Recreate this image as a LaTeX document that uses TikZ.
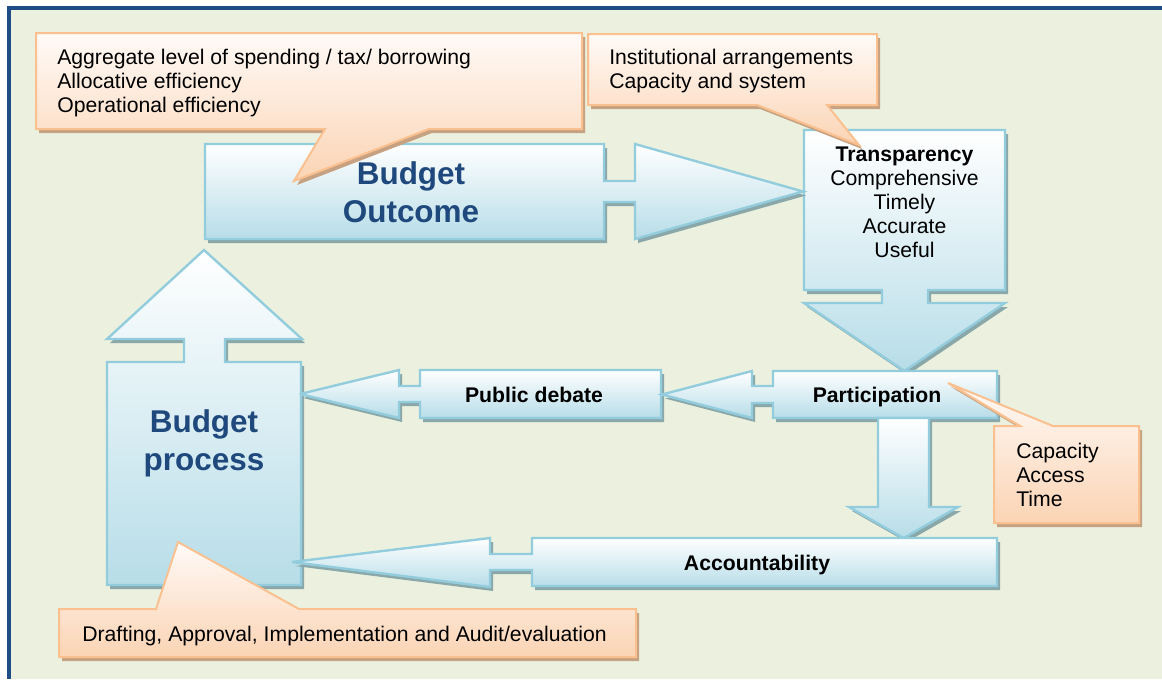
\documentclass[tikz,border=0pt]{standalone}
\usepackage{fontspec}
\setmainfont{Liberation Sans}

\definecolor{frameblue}{HTML}{204C85}
\definecolor{paper}{HTML}{EBF1DE}
\definecolor{blueedge}{HTML}{93CDDD}
\definecolor{bluefill}{HTML}{B7DDE8}
\definecolor{blueshade}{HTML}{8AA8AA}
\definecolor{noteedge}{HTML}{FAC08F}
\definecolor{notetop}{HTML}{FFFAF7}
\definecolor{notefill}{HTML}{FBD4B4}
\definecolor{noteshade}{HTML}{C6A282}
\definecolor{titleblue}{HTML}{1F497D}

\tikzset{
  bluebody/.style={draw=blueedge, line width=1.8pt, top color=white,
    bottom color=bluefill, line join=miter, miter limit=4},
  blueshadow/.style={fill=blueshade},
  notebody/.style={draw=noteedge, line width=1.5pt, top color=notetop,
    bottom color=notefill, line join=miter, miter limit=4},
  noteshadow/.style={fill=noteshade},
  plain/.style={inner sep=0pt, font=\fontsize{15.9}{18}\selectfont},
  label/.style={inner sep=0pt, font=\fontsize{15.9}{18}\selectfont\bfseries},
  title/.style={inner sep=0pt, text=titleblue,
    font=\fontsize{23.6}{28.5}\selectfont\bfseries, align=center},
}

% shape with a drop shadow: #1 shadow style, #2 body style, #3 outline
\newcommand\castshape[3]{%
  \path[#1, shift={(3,4)}] #3;
  \path[#2] #3;}

\begin{document}
\begin{tikzpicture}[x=0.75pt, y=-0.75pt]
\useasboundingbox (0,0) rectangle (1162,679);

% page frame
\fill[paper] (9,7.5) rectangle (1162,679);
\draw[frameblue, line width=3pt] (9,679) -- (9,7.5) -- (1162,7.5);

% block arrows
\castshape{blueshadow}{bluebody}{(107,362) -- (184,362) -- (184,339) -- (107,339)
  -- (204,250) -- (302,339) -- (225,339) -- (225,362) -- (301,362)
  -- (301,585) -- (107,585) -- cycle}
\castshape{blueshadow}{bluebody}{(804,130) -- (1005,130) -- (1005,290) -- (928,290)
  -- (928,303) -- (1005,303) -- (904.5,371) -- (804,303) -- (882,303)
  -- (882,290) -- (804,290) -- cycle}
\castshape{blueshadow}{bluebody}{(205,144) -- (604,144) -- (604,181) -- (635,181)
  -- (635,144) -- (803,191.5) -- (635,239) -- (635,202) -- (604,202)
  -- (604,239) -- (205,239) -- cycle}
\castshape{blueshadow}{bluebody}{(420,370) -- (661,370) -- (661,418) -- (420,418)
  -- (420,402) -- (399,402) -- (399,418) -- (300,394) -- (399,370)
  -- (399,386) -- (420,386) -- cycle}
\castshape{blueshadow}{bluebody}{(773,371) -- (997,371) -- (997,418) -- (773,418)
  -- (773,403) -- (752,403) -- (752,418) -- (662,394.5) -- (752,371)
  -- (752,386) -- (773,386) -- cycle}
\castshape{blueshadow}{bluebody}{(878,418) -- (929,418) -- (929,507) -- (958,507)
  -- (903.5,538) -- (849,507) -- (878,507) -- cycle}
\castshape{blueshadow}{bluebody}{(532,538) -- (997,538) -- (997,586) -- (532,586)
  -- (532,570) -- (490,570) -- (490,587) -- (292,562) -- (490,538)
  -- (490,554) -- (532,554) -- cycle}

% callouts
\castshape{noteshadow}{notebody}{(36,33) -- (582,33) -- (582,129) -- (429,129)
  -- (294,181) -- (325,129) -- (36,129) -- cycle}
\castshape{noteshadow}{notebody}{(588,34) -- (877,34) -- (877,105) -- (827,105)
  -- (859,145) -- (757,105) -- (588,105) -- cycle}
\castshape{noteshadow}{notebody}{(994,426) -- (1020,426) -- (948,383) -- (1053,426)
  -- (1139,426) -- (1139,523) -- (994,523) -- cycle}
\castshape{noteshadow}{notebody}{(59,609) -- (156,609) -- (178,542) -- (299,609)
  -- (636,609) -- (636,657) -- (59,657) -- cycle}

% texts
\node[title, anchor=north] (outcome) at (411,161.3) {Budget\\Outcome};
\node[title, anchor=north] (process) at (204,409.3) {Budget\\process};
\node[plain, anchor=north, align=center] (transparency) at (904.5,146.5)
  {\textbf{Transparency}\\Comprehensive\\Timely\\Accurate\\Useful};
\node[label, anchor=base] (participation) at (877,402) {Participation};
\node[label, anchor=base] (debate) at (534,402) {Public debate};
\node[label, anchor=base] (accountability) at (757,570) {Accountability};

\node[plain, anchor=north west, align=left] (levels) at (57,48.7)
  {Aggregate level of spending / tax/ borrowing\\Allocative efficiency\\Operational efficiency};
\node[plain, anchor=north west, align=left] (institutions) at (609,49.2)
  {Institutional arrangements\\Capacity and system};
\node[plain, anchor=north west, align=left] (capacity) at (1016,442.7)
  {Capacity\\Access\\Time};
\node[plain, anchor=base west] (stages) at (82,641)
  {Drafting, Approval, Implementation and Audit/evaluation};
\end{tikzpicture}
\end{document}
